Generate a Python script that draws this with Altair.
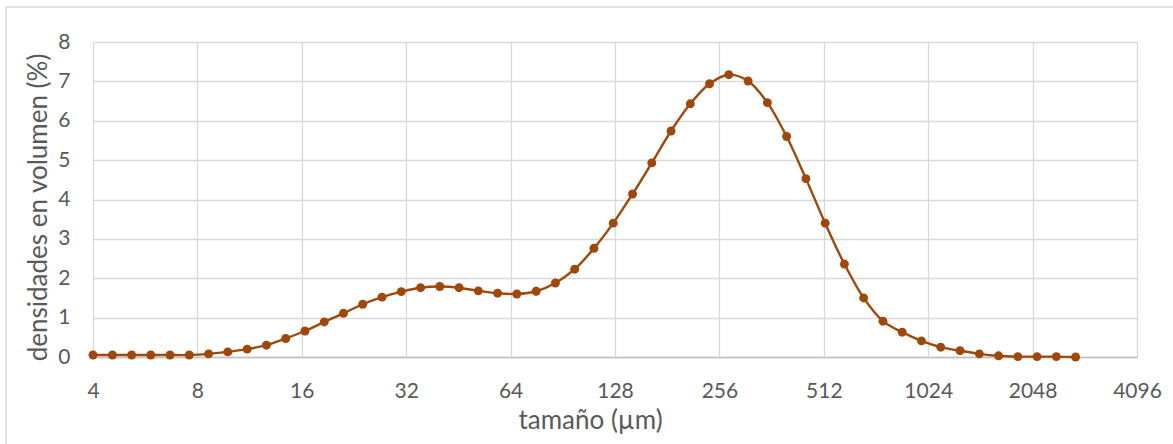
import altair as alt
import pandas as pd

# particle size (µm), log-spaced classes
sizes = [4.00, 4.55, 5.17, 5.87, 6.67, 7.58, 8.62, 9.79, 11.13, 12.65, 14.38, 16.34,
         18.57, 21.10, 23.98, 27.25, 30.97, 35.20, 40.0, 45.46, 51.66, 58.71, 66.72, 75.83,
         86.18, 97.94, 111.3, 126.5, 143.8, 163.4, 185.7, 211.0, 239.8, 272.5, 309.7, 352.0,
         400.0, 454.6, 516.6, 587.1, 667.2, 758.3, 861.8, 979.4, 1113.0, 1265.0, 1438.0, 1634.0,
         1857.0, 2110.0, 2398.0, 2725.0]

# volume density (%)
density = [0.05, 0.05, 0.05, 0.05, 0.05, 0.05, 0.08, 0.13, 0.20, 0.30, 0.47, 0.66,
           0.89, 1.11, 1.34, 1.52, 1.66, 1.76, 1.79, 1.76, 1.68, 1.62, 1.60, 1.67,
           1.88, 2.23, 2.76, 3.40, 4.14, 4.93, 5.74, 6.43, 6.94, 7.17, 7.01, 6.46,
           5.60, 4.53, 3.40, 2.36, 1.50, 0.91, 0.63, 0.41, 0.25, 0.16, 0.08, 0.03,
           0.01, 0.01, 0.01, 0.00]

x_ticks = [4, 8, 16, 32, 64, 128, 256, 512, 1024, 2048, 4096]
y_ticks = [0, 1, 2, 3, 4, 5, 6, 7, 8]

df = pd.DataFrame({"size": sizes, "density": density})

COLOR = "#9E480E"
TEXT = "#595959"
FONT = "Lato"

x_enc = alt.X(
    "size:Q",
    scale=alt.Scale(type="log", base=2, domain=[4, 4096], nice=False),
    axis=alt.Axis(
        values=x_ticks, format="d", title="tamaño (µm)",
        ticks=False, labelPadding=40, labelBaseline="alphabetic", labelFlush=False,
        labelOverlap=False,
        labelFontSize=21, labelColor=TEXT, labelFont=FONT,
        titleFontSize=26, titleColor=TEXT, titleFont=FONT, titleFontWeight="normal",
        titleX=497, titleY=71, titleBaseline="alphabetic", titleAlign="center",
        domainColor="#bfbfbf", domainWidth=1.5,
        gridColor="#d9d9d9", gridWidth=1.3,
    ),
)
y_enc = alt.Y(
    "density:Q",
    scale=alt.Scale(domain=[0, 8], nice=False),
    axis=alt.Axis(
        values=y_ticks, title="densidades en volumen (%)",
        ticks=False, domain=False, labelPadding=23, labelFlush=False,
        labelFontSize=21, labelColor=TEXT, labelFont=FONT,
        titleFontSize=26, titleColor=TEXT, titleFont=FONT, titleFontWeight="normal",
        titleY=165, titleX=-47, titleBaseline="alphabetic", titleAlign="center", titleAngle=270,
        gridColor="#d9d9d9", gridWidth=1.3,
    ),
)

border = alt.Chart(alt.Data(values=[{}])).mark_rect(
    fill=None, stroke="#d9d9d9", strokeWidth=1.3, clip=False
).encode(
    x=alt.value(-87), x2=alt.value(1044 + 60),
    y=alt.value(-35), y2=alt.value(315 + 110),
)

base = alt.Chart(df)
line = base.mark_line(color=COLOR, strokeWidth=2.4, interpolate="catmull-rom").encode(x=x_enc, y=y_enc)
pts = base.mark_point(filled=True, color=COLOR, size=80, opacity=1).encode(x=x_enc, y=y_enc)

chart = alt.layer(border, line, pts).properties(
    width=1044, height=315,
    padding={"left": 93, "top": 42, "right": 36, "bottom": 87},
    autosize=alt.AutoSizeParams(type="none"),
).configure_view(stroke=None).configure(background="white")

chart.save("out.html", embed_options={"renderer": "svg", "actions": False})
